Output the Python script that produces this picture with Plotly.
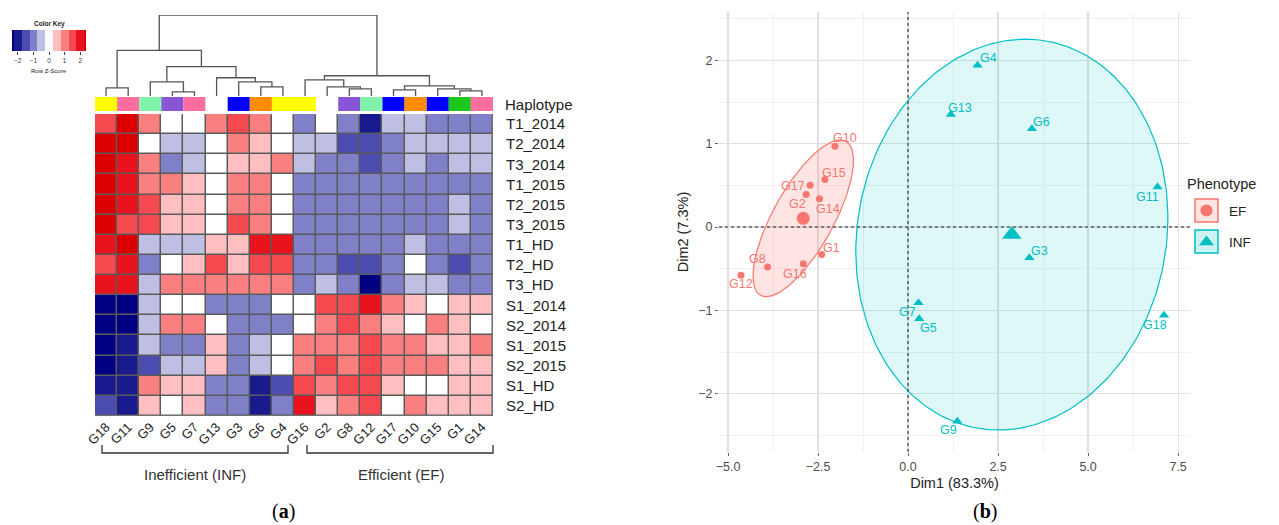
import numpy as np
import plotly.graph_objects as go

W, H = 1279, 525
def PX(x): return x / W
def PY(y): return 1 - y / H

FONT = "Liberation Sans, Arial, sans-serif"

# ---------------- data: heatmap (a) ----------------
genotypes = ["G18", "G11", "G9", "G5", "G7", "G13", "G3", "G6", "G4",
             "G16", "G2", "G8", "G12", "G17", "G10", "G15", "G1", "G14"]
haplotype_colors = ["#FFFF00", "#FF6E9E", "#80F2AA", "#8A55D6", "#FF6E9E", "#FFFFFF",
                    "#0000FF", "#FF8C00", "#FFFF00", "#FFFF00", "#FFFFFF", "#8A55D6",
                    "#80F2AA", "#0000FF", "#FF8C00", "#0000FF", "#1CC81C", "#FF6E9E"]
traits = ["T1_2014", "T2_2014", "T3_2014", "T1_2015", "T2_2015", "T3_2015",
          "T1_HD", "T2_HD", "T3_HD", "S1_2014", "S2_2014", "S1_2015", "S2_2015",
          "S1_HD", "S2_HD"]

z_T1_2014 = [1.5, 2.5, 1.0, 0, 0, 1.0, 1.5, 1.0, 0, -1.0, 0, -1.0, -2.0, -0.5, -0.5, -1.0, -1.0, -1.0]
z_T2_2014 = [2.5, 2.5, 0, -0.5, -0.5, 0, 1.0, 0.5, 0, -0.5, -0.5, -1.5, -1.5, -1.0, -0.5, -0.5, -0.5, -0.5]
z_T3_2014 = [2.5, 2.0, 1.0, -1.0, -0.5, 0, 0.5, 0.5, 1.0, -0.5, -1.0, -1.0, -1.5, -1.0, -0.5, -1.0, -0.5, -0.5]
z_T1_2015 = [2.5, 2.0, 1.0, 1.0, 0.5, 0, 1.0, 1.0, 0, -1, -1, -1, -1, -1, -1, -1, -1, -1]
z_T2_2015 = [2.5, 2.0, 1.5, 0.5, 0.5, 0, 1.0, 1.0, 0, -1, -1, -1, -1, -1, -1, -1, -0.5, -1]
z_T3_2015 = [2.5, 1.5, 1.5, 0.5, 0.5, 0, 1.5, 1.0, 0, -1, -1, -1, -1, -1, -1, -1, -0.5, -1]
z_T1_HD = [2.0, 2.5, -0.5, -0.5, -0.5, 0.5, 0.5, 2.0, 2.0, -1, -1, -1, -1, -1, -0.5, -1, -1, -1]
z_T2_HD = [1.5, 2.0, -1.0, 0, 0.5, 1.5, 0.5, 1.5, 1.5, -1, -1, -1.5, -1.5, -1, 0, -1, -1.5, -1]
z_T3_HD = [2.0, 2.0, -0.5, 1.0, 1.0, 1.0, 1.0, 1.0, 1.0, -1, -0.5, -1, -2.5, -1, -0.5, -0.5, -1, -1]
z_S1_2014 = [-2.5, -2.5, -0.5, 0, 0, -1, -1, -1, 0, 0, 1.5, 1.5, 2.0, 1.0, 0.5, 0, 0.5, 0.5]
z_S2_2014 = [-2.5, -2.5, -0.5, 1.0, 1.0, 0, -1, -1, -1, 0, 1.0, 1.5, 1.0, 0.5, 0, 1.0, 0.5, 0]
z_S1_2015 = [-2.5, -2.0, -0.5, -1, -1, 0.5, -1, -0.5, 0, 1.0, 1.0, 1.0, 1.5, 1.0, 1.0, 0.5, 0.5, 1.0]
z_S2_2015 = [-2.5, -2.0, -1.5, -0.5, -0.5, 0.5, -1, -0.5, 0, 1.0, 1.5, 1.0, 1.5, 1.0, 1.0, 1.0, 0.5, 0.5]
z_S1_HD = [-2.0, -2.0, 1.0, 0.5, 0.5, -1, -1, -2.0, -1.5, 1.5, 1.0, 1.5, 1.5, 0.5, 0, 0, 0.5, 0.5]
z_S2_HD = [-1.5, -2.0, 0.5, 0, 0.5, -1, -1, -2.0, -1, 2.0, 0.5, 1.0, 1.5, 0, 1.0, 0.5, 0.5, 0.5]
zscore_rows = [z_T1_2014, z_T2_2014, z_T3_2014, z_T1_2015, z_T2_2015, z_T3_2015,
               z_T1_HD, z_T2_HD, z_T3_HD, z_S1_2014, z_S2_2014, z_S1_2015, z_S2_2015,
               z_S1_HD, z_S2_HD]

key_levels = [-2.5, -2.0, -1.5, -1.0, -0.5, 0, 0.5, 1.0, 1.5, 2.0, 2.5]
key_colors = ["#000080", "#1A1A8F", "#4B4BB0", "#8080C8", "#BFBFE3", "#FFFFFF",
              "#FFBFC0", "#FA8080", "#F44A4F", "#E8131C", "#DC0000"]

# column dendrogram: (left, right, merge height)
dendro_tree = (
    (("G18", "G11", 8),
     (("G9", ("G5", "G7", 4), 14),
      ("G13", ("G3", ("G6", "G4", 9), 14), 18), 29), 45),
    (("G16", ("G2", ("G8", "G12", 7), 9), 16),
     (("G17", "G10", 6), ("G15", ("G1", "G14", 5), 7), 10), 20),
    80)

# ---------------- data: PCA (b) ----------------
ef_names = ["G10", "G15", "G17", "G2", "G14", "G1", "G16", "G8", "G12"]
ef_dim1 = [-2.03, -2.31, -2.72, -2.83, -2.46, -2.40, -2.91, -3.90, -4.64]
ef_dim2 = [0.97, 0.57, 0.50, 0.39, 0.34, -0.33, -0.44, -0.48, -0.58]
inf_names = ["G4", "G13", "G6", "G11", "G3", "G18", "G7", "G5", "G9"]
inf_dim1 = [1.93, 1.19, 3.44, 6.93, 3.37, 7.11, 0.29, 0.31, 1.37]
inf_dim2 = [1.94, 1.35, 1.18, 0.48, -0.37, -1.06, -0.91, -1.10, -2.33]

# label offsets in screen pixels (dx right, dy down) – layout only
ef_label_offsets = [(10, -8), (9, -7), (-17, 1), (-9, 9), (9, 10), (10, -7), (-8, 10), (-10, -8), (0, 9)]
inf_label_offsets = [(11, -7), (9, -7), (10, -7), (-10, 10), (10, -7), (-9, 10), (-11, 9), (9, 9), (-9, 9)]

EF_COL = "#F8766D"
INF_COL = "#00BFC4"

fig = go.Figure()
shapes = []
annotations = []

# ---------- color scale (discrete bins) ----------
nb = len(key_colors)
cscale = []
for i, c in enumerate(key_colors):
    cscale.append([i / nb, c])
    cscale.append([(i + 1) / nb, c])
ZMIN, ZMAX = key_levels[0] - 0.25, key_levels[-1] + 0.25

# ---------- heatmap ----------
ncol, nrow = len(genotypes), len(traits)
fig.add_trace(go.Heatmap(z=zscore_rows, x=list(range(ncol)), y=list(range(nrow)),
                         colorscale=cscale, zmin=ZMIN, zmax=ZMAX, showscale=False,
                         xgap=1.5, ygap=1.5, xaxis="x", yaxis="y", hoverinfo="skip"))
shapes.append(dict(type="rect", xref="x", yref="y", x0=-0.5, x1=ncol - 0.5, y0=-0.5, y1=nrow - 0.5,
                   fillcolor="#5a5a5a", line=dict(color="#8a8a8a", width=1), layer="below"))

# ---------- dendrogram ----------
order = {g: i for i, g in enumerate(genotypes)}
dx, dy = [], []
def walk(node):
    if isinstance(node, str):
        return order[node], 0
    l, r, h = node
    xl, hl = walk(l)
    xr, hr = walk(r)
    dx.extend([xl, xl, xr, xr, None])
    dy.extend([hl, h, h, hr, None])
    return (xl + xr) / 2, h
walk(dendro_tree)
fig.add_trace(go.Scatter(x=dx, y=dy, mode="lines", line=dict(color="#555555", width=1.3),
                         xaxis="x2", yaxis="y2", hoverinfo="skip"))

# ---------- haplotype bar ----------
fig.add_trace(go.Bar(x=list(range(ncol)), y=[1] * ncol, width=1, marker=dict(color=haplotype_colors, line=dict(width=0)),
                     xaxis="x3", yaxis="y3", hoverinfo="skip"))

# ---------- color key ----------
fig.add_trace(go.Heatmap(z=[key_levels], x=key_levels, y=[0], colorscale=cscale, zmin=ZMIN, zmax=ZMAX,
                         showscale=False, xaxis="x4", yaxis="y4", hoverinfo="skip"))

# ---------- PCA ----------
def ellipse(xs, ys, level=0.75, n=240):
    xs, ys = np.asarray(xs), np.asarray(ys)
    c = np.cov(xs, ys)
    r = np.sqrt(-2 * np.log(1 - level))
    vals, vecs = np.linalg.eigh(c)
    t = np.linspace(0, 2 * np.pi, n)
    pts = vecs @ (np.sqrt(vals)[:, None] * np.vstack([np.cos(t), np.sin(t)])) * r
    return xs.mean() + pts[0], ys.mean() + pts[1]

for xs, ys, col, fill in [(inf_dim1, inf_dim2, INF_COL, "rgba(0,191,196,0.13)"),
                          (ef_dim1, ef_dim2, EF_COL, "rgba(248,118,109,0.2)")]:
    ex, ey = ellipse(xs, ys)
    fig.add_trace(go.Scatter(x=ex, y=ey, mode="lines", fill="toself", fillcolor=fill,
                             line=dict(color=col, width=1.2), xaxis="x5", yaxis="y5", hoverinfo="skip"))

fig.add_trace(go.Scatter(x=ef_dim1, y=ef_dim2, mode="markers", marker=dict(symbol="circle", size=7, color=EF_COL),
                         xaxis="x5", yaxis="y5", hoverinfo="skip"))
fig.add_trace(go.Scatter(x=inf_dim1, y=inf_dim2, mode="markers", marker=dict(symbol="triangle-up", size=9, color=INF_COL),
                         xaxis="x5", yaxis="y5", hoverinfo="skip"))
fig.add_trace(go.Scatter(x=[np.mean(ef_dim1)], y=[np.mean(ef_dim2)], mode="markers",
                         marker=dict(symbol="circle", size=13, color=EF_COL), xaxis="x5", yaxis="y5", hoverinfo="skip"))
fig.add_trace(go.Scatter(x=[np.mean(inf_dim1)], y=[np.mean(inf_dim2)], mode="markers",
                         marker=dict(symbol="triangle-up", size=17, color=INF_COL), xaxis="x5", yaxis="y5", hoverinfo="skip"))

for names, xs, ys, offs, col in [(ef_names, ef_dim1, ef_dim2, ef_label_offsets, EF_COL),
                                 (inf_names, inf_dim1, inf_dim2, inf_label_offsets, INF_COL)]:
    for nm, x, y, (ox, oy) in zip(names, xs, ys, offs):
        annotations.append(dict(x=x, y=y, xref="x5", yref="y5", text=nm, showarrow=False,
                                xshift=ox, yshift=-oy, font=dict(family=FONT, size=12.5, color=col)))

# dashed reference lines
shapes.append(dict(type="line", xref="x5 domain", yref="y5", x0=0, x1=1, y0=0, y1=0,
                   line=dict(color="#222222", width=1, dash="3px,3px")))
shapes.append(dict(type="line", xref="x5", yref="y5 domain", x0=0, x1=0, y0=0, y1=1,
                   line=dict(color="#222222", width=1, dash="3px,3px")))

# ---------- legend (b), drawn in pixel overlay ----------
shapes.append(dict(type="rect", xref="x6", yref="y6", x0=1195, x1=1218, y0=199, y1=222,
                   fillcolor="rgba(248,118,109,0.2)", line=dict(color=EF_COL, width=1.5)))
shapes.append(dict(type="rect", xref="x6", yref="y6", x0=1195, x1=1218, y0=230, y1=253,
                   fillcolor="rgba(0,191,196,0.2)", line=dict(color=INF_COL, width=1.5)))
fig.add_trace(go.Scatter(x=[1206.5], y=[210.5], mode="markers", marker=dict(symbol="circle", size=12, color=EF_COL),
                         xaxis="x6", yaxis="y6", hoverinfo="skip"))
fig.add_trace(go.Scatter(x=[1206.5], y=[242], mode="markers", marker=dict(symbol="triangle-up", size=13, color=INF_COL),
                         xaxis="x6", yaxis="y6", hoverinfo="skip"))
annotations += [
    dict(x=1185, y=184, xref="x6", yref="y6", text="Phenotype", showarrow=False, xanchor="left",
         font=dict(family=FONT, size=14.5, color="#222")),
    dict(x=1227, y=211, xref="x6", yref="y6", text="EF", showarrow=False, xanchor="left",
         font=dict(family=FONT, size=13.5, color="#222")),
    dict(x=1227, y=242, xref="x6", yref="y6", text="INF", showarrow=False, xanchor="left",
         font=dict(family=FONT, size=13.5, color="#222")),
]

# ---------- heatmap annotations ----------
annotations += [
    dict(x=503, y=104, xref="x6", yref="y6", text="Haplotype", showarrow=False, xanchor="left",
         font=dict(family=FONT, size=15, color="#222")),
    dict(x=49, y=24, xref="x6", yref="y6", text="<b>Color Key</b>", showarrow=False,
         font=dict(family=FONT, size=6.5, color="#222")),
    dict(x=49, y=71, xref="x6", yref="y6", text="Row Z-Score", showarrow=False,
         font=dict(family=FONT, size=6, color="#222")),
    dict(x=195, y=474, xref="x6", yref="y6", text="Inefficient (INF)", showarrow=False,
         font=dict(family=FONT, size=15, color="#333")),
    dict(x=401, y=474, xref="x6", yref="y6", text="Efficient (EF)", showarrow=False,
         font=dict(family=FONT, size=15, color="#333")),
    dict(x=283, y=511, xref="x6", yref="y6", text="(<b>a</b>)", showarrow=False,
         font=dict(family="Liberation Serif, serif", size=20, color="#000")),
    dict(x=985, y=511, xref="x6", yref="y6", text="(<b>b</b>)", showarrow=False,
         font=dict(family="Liberation Serif, serif", size=20, color="#000")),
]
for x0, x1 in [(102, 288), (307, 493)]:
    shapes.append(dict(type="path", xref="x6", yref="y6",
                       path=f"M {x0} 445 L {x0} 453 L {x1} 453 L {x1} 445",
                       line=dict(color="#333", width=1.3)))

hidden = dict(visible=False, showgrid=False, zeroline=False, fixedrange=True, automargin=False)

fig.update_layout(
    width=W, height=H, margin=dict(l=0, r=0, t=0, b=0, autoexpand=False),
    paper_bgcolor="white", plot_bgcolor="rgba(0,0,0,0)", showlegend=False,
    font=dict(family=FONT, color="#222"),
    xaxis=dict(domain=[PX(95), PX(493)], range=[-0.5, ncol - 0.5], anchor="y", automargin=False,
               tickvals=list(range(ncol)), ticktext=genotypes, tickangle=-45,
               tickfont=dict(family=FONT, size=13, color="#222"), showgrid=False, zeroline=False,
               ticks="", showline=False),
    yaxis=dict(domain=[PY(416), PY(114)], range=[nrow - 0.5, -0.5], anchor="x", side="right", automargin=False,
               tickvals=list(range(nrow)), ticktext=traits, ticks="outside", ticklen=9, tickcolor="rgba(0,0,0,0)",
               tickfont=dict(family=FONT, size=15, color="#222"), showgrid=False, zeroline=False),
    xaxis2=dict(domain=[PX(95), PX(493)], range=[-0.5, ncol - 0.5], anchor="y2", **hidden),
    yaxis2=dict(domain=[PY(96), PY(15)], range=[0, 80], anchor="x2", **hidden),
    xaxis3=dict(domain=[PX(95), PX(493)], range=[-0.5, ncol - 0.5], anchor="y3", **hidden),
    yaxis3=dict(domain=[PY(111), PY(97)], range=[0, 1], anchor="x3", **hidden),
    xaxis4=dict(domain=[PX(12), PX(86)], range=[-2.37, 2.37], anchor="y4", showgrid=False, zeroline=False,
                tickvals=[-2, -1, 0, 1, 2], ticks="outside", ticklen=3, tickcolor="#444", automargin=False,
                tickfont=dict(family=FONT, size=6.5, color="#333"), fixedrange=True),
    yaxis4=dict(domain=[PY(51), PY(30)], range=[-0.5, 0.5], anchor="x4", **hidden),
    xaxis5=dict(domain=[PX(719), PX(1190)], range=[-5.25, 7.83], anchor="y5", automargin=False,
                tickvals=[-5, -2.5, 0, 2.5, 5, 7.5], tickformat=".1f",
                showgrid=True, gridcolor="#E0E0E0", gridwidth=1.2, zeroline=False,
                minor=dict(dtick=1.25, showgrid=True, gridcolor="#EDEDED", gridwidth=0.8),
                ticks="outside", ticklen=3, tickcolor="#666",
                tickfont=dict(family=FONT, size=12.5, color="#4D4D4D"),
                title=dict(text="Dim1 (83.3%)", standoff=4, font=dict(family=FONT, size=14.5, color="#222"))),
    yaxis5=dict(domain=[PY(452), PY(12)], range=[-2.70, 2.58], anchor="x5", automargin=False,
                tickvals=[-2, -1, 0, 1, 2],
                showgrid=True, gridcolor="#E0E0E0", gridwidth=1.2, zeroline=False,
                minor=dict(dtick=0.5, showgrid=True, gridcolor="#EDEDED", gridwidth=0.8),
                ticks="outside", ticklen=3, tickcolor="#666",
                tickfont=dict(family=FONT, size=12.5, color="#4D4D4D"),
                title=dict(text="Dim2 (7.3%)", standoff=6, font=dict(family=FONT, size=14.5, color="#222"))),
    xaxis6=dict(domain=[0, 1], range=[0, W], anchor="y6", **hidden),
    yaxis6=dict(domain=[0, 1], range=[H, 0], anchor="x6", **hidden),
    shapes=shapes, annotations=annotations,
)

fig.write_html("out.html", config={"displayModeBar": False, "staticPlot": True},
               post_script="document.body.style.margin='0';document.body.style.overflow='hidden';")
